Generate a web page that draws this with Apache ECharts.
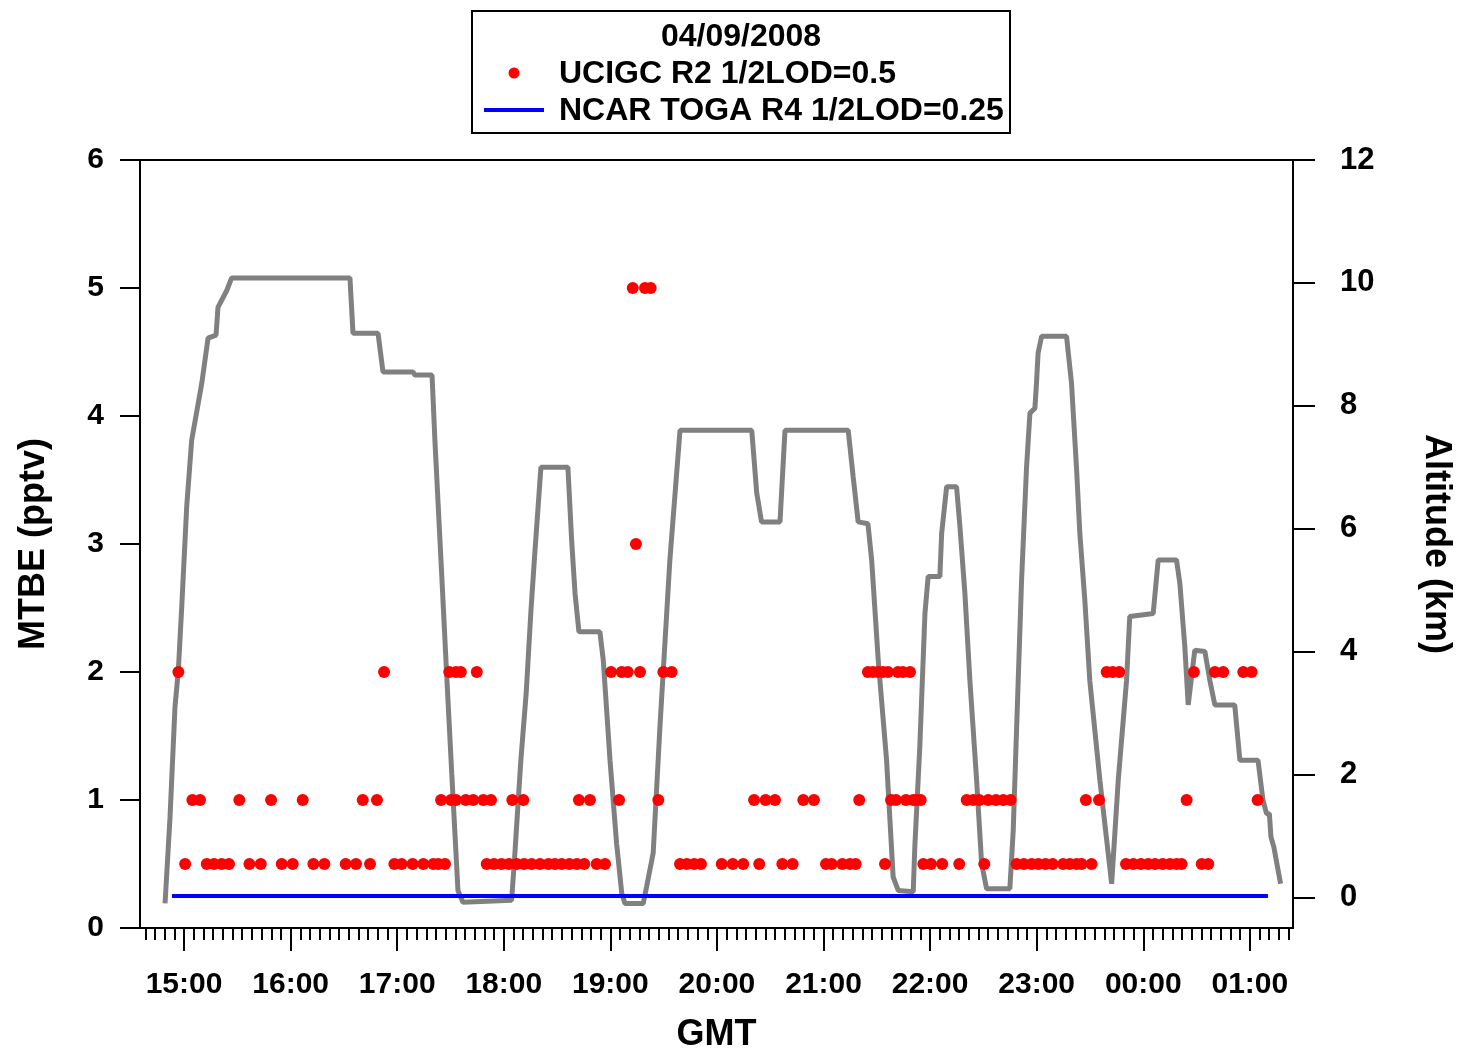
<!DOCTYPE html>
<html>
<head>
<meta charset="utf-8">
<script src="https://cdn.jsdelivr.net/npm/echarts@6/dist/echarts.min.js"></script>
<style>
html,body{margin:0;padding:0;background:#fff;}
#chart{width:1461px;height:1052px;}
</style>
</head>
<body>
<div id="chart"></div>
<script>
// ---- data (time = minutes after 00:00 GMT on 04/09/2008) ----
const altMinutes = [889.3,892.1,894.9,896.8,898.7,901.5,904.3,910.0,913.5,918.0,919.1,924.1,926.8,993.4,995.1,1009.2,1012.0,1028.9,1030.0,1039.6,1041.3,1045.0,1047.8,1050.7,1054.2,1057.0,1084.4,1086.0,1089.6,1092.6,1095.3,1097.2,1100.9,1116.1,1118.2,1120.1,1122.3,1134.1,1136.0,1139.8,1143.5,1146.4,1148.2,1158.5,1160.4,1164.1,1167.9,1173.5,1179.2,1219.6,1222.4,1225.1,1235.5,1238.3,1273.9,1276.7,1279.5,1285.0,1287.1,1290.8,1295.5,1299.2,1302.1,1310.5,1311.4,1314.2,1317.1,1318.9,1325.5,1326.5,1329.3,1334.9,1336.8,1339.6,1342.4,1346.2,1349.0,1351.8,1364.9,1366.8,1369.6,1371.5,1374.3,1376.2,1379.0,1379.9,1380.8,1382.8,1396.8,1399.6,1402.4,1404.3,1407.1,1409.9,1415.6,1422.2,1425.9,1430.6,1432.4,1445.6,1448.4,1458.7,1460.6,1463.4,1465.3,1469.0,1474.7,1477.5,1480.3,1491.5,1494.4,1504.6,1507.4,1509.4,1511.0,1511.9,1513.5,1517.3];
const altKm = [-0.1,1.3,3.1,3.7,4.73,6.36,7.44,8.37,9.1,9.15,9.6,9.88,10.08,10.08,9.18,9.18,8.55,8.55,8.5,8.5,7.39,5.28,3.65,2.02,0.11,-0.08,-0.05,0.6,2.23,3.32,4.67,5.49,7.0,7.0,5.81,4.95,4.32,4.32,3.86,2.23,0.88,0.07,-0.1,-0.1,0.17,0.72,2.77,5.49,7.6,7.6,6.58,6.11,6.11,7.6,7.6,6.84,6.11,6.08,5.49,3.86,2.23,0.33,0.11,0.09,0.82,2.45,4.62,5.22,5.22,5.92,6.68,6.68,6.03,4.94,3.53,1.9,0.55,0.14,0.14,1.09,3.53,5.16,7.0,7.88,7.96,8.37,8.86,9.13,9.13,8.37,7.0,5.92,4.84,3.53,1.9,0.22,1.9,3.53,4.57,4.62,5.49,5.49,5.11,4.08,3.13,4.02,4.0,3.53,3.13,3.13,2.23,2.23,1.58,1.36,1.36,0.98,0.82,0.22];

const mtbeMinutes05 = [900.6,912.8,916.9,921.2,925.3,936.8,943.2,955.0,961.2,972.8,979.0,991.0,996.8,1004.7,1018.4,1022.5,1028.7,1034.7,1040.3,1043.1,1046.9,1070.4,1074.5,1078.7,1082.9,1087.3,1091.4,1095.7,1100.4,1105.1,1108.8,1112.6,1116.9,1121.1,1125.3,1132.3,1137.0,1179.2,1183.0,1187.2,1191.0,1202.7,1208.9,1214.8,1223.8,1236.8,1242.6,1261.4,1264.6,1270.6,1274.9,1278.1,1294.6,1316.2,1320.5,1326.8,1336.4,1350.5,1368.7,1372.8,1377.2,1380.9,1385.0,1389.0,1394.9,1398.7,1402.5,1405.3,1410.9,1430.3,1434.4,1438.7,1442.8,1446.6,1450.9,1455.0,1458.8,1461.6,1472.9,1476.6];
const mtbeMinutes1 = [904.7,909.0,931.1,949.0,966.8,1000.6,1008.6,1044.7,1050.3,1053.1,1058.6,1062.8,1068.5,1072.8,1084.8,1091.0,1122.3,1128.5,1144.9,1167.0,1220.9,1227.4,1232.7,1248.6,1254.6,1280.1,1298.0,1300.8,1306.4,1310.5,1312.4,1314.7,1340.6,1344.3,1347.7,1352.7,1357.1,1361.2,1365.3,1407.7,1415.1,1464.4,1504.4];
const mtbeMinutes2 = [896.8,1012.6,1049.3,1053.1,1055.8,1064.8,1140.4,1146.4,1149.8,1156.7,1169.8,1174.5,1285.0,1287.8,1290.7,1293.5,1296.3,1301.9,1304.7,1308.7,1419.4,1422.8,1426.5,1468.5,1480.3,1485.0,1496.3,1501.0];
const mtbeMinutes3 = [1154.4];
const mtbeMinutes5 = [1152.6,1159.5,1162.7];

const togaMinutes = [893.2, 1510.2];
const togaPptv = [0.25, 0.25];

const hourTicks = [900,960,1020,1080,1140,1200,1260,1320,1380,1440,1500];
const altTicks = [0,2,4,6,8,10,12];

// ---- build ----
const altData = altMinutes.map((t,i)=>[t, altKm[i]]);
const mtbeData = []
  .concat(mtbeMinutes05.map(t=>[t,0.5]))
  .concat(mtbeMinutes1.map(t=>[t,1]))
  .concat(mtbeMinutes2.map(t=>[t,2]))
  .concat(mtbeMinutes3.map(t=>[t,3]))
  .concat(mtbeMinutes5.map(t=>[t,5]));
const togaData = togaMinutes.map((t,i)=>[t, togaPptv[i]]);

const xMin = 875.2, xMax = 1524.3;
const minorTicks = [];
for (let h = 14; h <= 25; h++) {
  for (let k = 1; k < 11; k++) {
    const v = h*60 + k*60/11;
    if (v > xMin && v < xMax) minorTicks.push(+v.toFixed(3));
  }
}
function fmtHour(v){
  const h = Math.round(v/60) % 24;
  return (h<10?'0':'')+h+':00';
}

const FONT = '"Liberation Sans", Arial, Helvetica, sans-serif';
const chart = echarts.init(document.getElementById('chart'), null, {renderer:'canvas'});
chart.setOption({
  animation:false,
  backgroundColor:'#fff',
  textStyle:{fontFamily:FONT},
  grid:{left:140, right:168, top:160, bottom:124, outerBoundsMode:'none', containLabel:false,
        show:true, borderColor:'#000', borderWidth:2, backgroundColor:'transparent'},
  xAxis:[{
    type:'value', min:xMin, max:xMax, position:'bottom',
    axisLine:{show:true, onZero:false, lineStyle:{color:'#000', width:2}},
    axisTick:{show:true, inside:false, length:23, lineStyle:{color:'#000', width:2}, customValues:hourTicks},
    axisLabel:{show:true, customValues:hourTicks, formatter:fmtHour, color:'#000', fontSize:30, fontWeight:'bold', fontFamily:FONT, margin:42},
    splitLine:{show:false},
    name:'GMT', nameLocation:'middle', nameGap:89,
    nameTextStyle:{color:'#000', fontSize:36, fontWeight:'bold', fontFamily:FONT}
  },{
    type:'value', min:xMin, max:xMax, position:'bottom',
    axisLine:{show:false},
    axisTick:{show:true, inside:false, length:12, lineStyle:{color:'#000', width:2}, customValues:minorTicks},
    axisLabel:{show:false},
    splitLine:{show:false}
  }],
  yAxis:[{
    type:'value', min:0, max:6, interval:1, position:'left',
    axisLine:{show:true, onZero:false, lineStyle:{color:'#000', width:2}},
    axisTick:{show:true, inside:false, length:20, lineStyle:{color:'#000', width:2}},
    axisLabel:{color:'#000', fontSize:30, fontWeight:'bold', fontFamily:FONT, margin:36},
    splitLine:{show:false},
    name:'MTBE (pptv)', nameLocation:'middle', nameRotate:90, nameGap:88,
    nameTextStyle:{color:'#000', fontSize:36, fontWeight:'bold', fontFamily:FONT}
  },{
    type:'value', min:-0.5, max:12, position:'right',
    axisLine:{show:true, onZero:false, lineStyle:{color:'#000', width:2}},
    axisTick:{show:true, inside:false, length:22, lineStyle:{color:'#000', width:2}, customValues:altTicks},
    axisLabel:{color:'#000', fontSize:31, fontWeight:'bold', fontFamily:FONT, margin:47, customValues:altTicks},
    splitLine:{show:false},
    name:'Altitude (km)', nameLocation:'middle', nameRotate:-90, nameGap:125,
    nameTextStyle:{color:'#000', fontSize:36, fontWeight:'bold', fontFamily:FONT}
  }],
  series:[{
    name:'Altitude', type:'line', xAxisIndex:0, yAxisIndex:1, data:altData,
    showSymbol:false, symbol:'none', lineStyle:{color:'#808080', width:5}, z:2
  },{
    name:'NCAR TOGA R4 1/2LOD=0.25', type:'line', xAxisIndex:0, yAxisIndex:0, data:togaData,
    showSymbol:false, symbol:'none', lineStyle:{color:'#0000ff', width:4}, z:3
  },{
    name:'UCIGC R2 1/2LOD=0.5', type:'scatter', xAxisIndex:0, yAxisIndex:0, data:mtbeData,
    symbol:'circle', symbolSize:12, itemStyle:{color:'#ff0000', opacity:1}, z:4
  }],
  graphic:[
    {type:'rect', shape:{x:472, y:11, width:538, height:122}, style:{fill:'#fff', stroke:'#000', lineWidth:2}, z:10},
    {type:'text', x:741, y:37, style:{text:'04/09/2008', align:'center', verticalAlign:'middle', fill:'#000', font:'bold 32px '+FONT}, z:11},
    {type:'circle', shape:{cx:514, cy:73, r:5.5}, style:{fill:'#ff0000'}, z:11},
    {type:'text', x:559, y:74, style:{text:'UCIGC R2 1/2LOD=0.5', align:'left', verticalAlign:'middle', fill:'#000', font:'bold 32px '+FONT}, z:11},
    {type:'line', shape:{x1:484, y1:110, x2:544, y2:110}, style:{stroke:'#0000ff', lineWidth:4}, z:11},
    {type:'text', x:559, y:111, style:{text:'NCAR TOGA R4 1/2LOD=0.25', align:'left', verticalAlign:'middle', fill:'#000', font:'bold 32px '+FONT}, z:11}
  ]
});
</script>
</body>
</html>
